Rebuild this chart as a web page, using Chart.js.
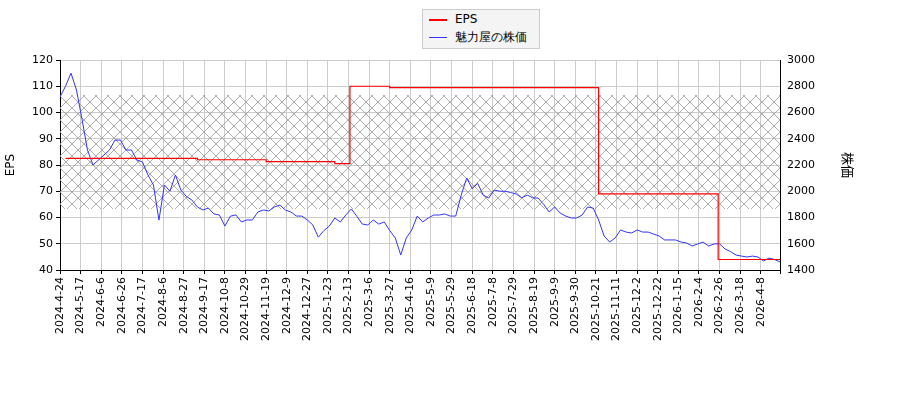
<!DOCTYPE html>
<html><head><meta charset="utf-8">
<script src="https://cdn.jsdelivr.net/npm/chart.js@4/dist/chart.umd.min.js"></script>
<style>
body{margin:0;background:#fff;font-family:"DejaVu Sans",sans-serif}
#wrap{position:relative;width:900px;height:400px}
#legend{position:absolute;left:422px;top:9px;width:116px;height:38px;border:1px solid #ccc;background:#f4f4f4;font-size:12px;color:#000}
#legend div{height:18px;line-height:18px;padding-left:6px;white-space:nowrap}
#legend span{display:inline-block;width:18px;height:0;border-top:2px solid;vertical-align:middle;margin-right:8px}
</style></head><body>
<div id="wrap"><canvas id="c" width="900" height="400"></canvas>
<div id="legend"><div><span style="border-color:#f00"></span>EPS</div><div><span style="border-color:#33f;border-top-width:1px"></span>魅力屋の株価</div></div></div>
<script>
const tickLabels = ['2024-4-24','2024-5-17','2024-6-6','2024-6-26','2024-7-17','2024-8-6','2024-8-27','2024-9-17','2024-10-8','2024-10-29','2024-11-19','2024-12-9','2024-12-27','2025-1-23','2025-2-13','2025-3-6','2025-3-27','2025-4-16','2025-5-9','2025-5-29','2025-6-18','2025-7-8','2025-7-29','2025-8-19','2025-9-9','2025-9-30','2025-10-21','2025-11-11','2025-12-2','2025-12-22','2026-1-15','2026-2-4','2026-2-26','2026-3-18','2026-4-8'];
// trading-day index / EPS value (step changes)
const epsDays = [4, 100, 150, 200, 211, 240, 391, 392, 478, 479, 524];
const epsValues = [82.5, 82, 81.3, 80.5, 110, 109.5, 109.5, 69, 69, 44, 44];
// share price sampled every 4 trading days
const priceStep = 4;
const prices = [2718,2800,2900,2771,2550,2314,2200,2238,2276,2314,2390,2390,2314,2314,2238,2223,2124,2048,1780,2048,
2000,2124,2009,1960,1933,1880,1857,1872,1827,1819,1735,1810,1820,1766,1781,1781,1842,1857,1850,1880,
1895,1857,1842,1811,1811,1781,1743,1650,1700,1735,1796,1766,1819,1865,1810,1750,1743,1781,1750,1766,
1700,1644,1514,1644,1705,1811,1766,1796,1819,1819,1827,1811,1811,1971,2101,2020,2060,1971,1948,2009,
2000,2000,1990,1979,1950,1971,1950,1948,1900,1842,1880,1834,1811,1796,1796,1819,1880,1872,1781,1659,
1613,1644,1705,1689,1682,1705,1689,1689,1674,1659,1629,1629,1629,1613,1606,1583,1598,1613,1583,1598,
1600,1560,1540,1514,1506,1499,1506,1499,1468,1491,1480,1461];
const bandRange = [1865, 2733]; // hatched band on price axis

const hatch = (() => {
    const p = document.createElement('canvas');
    p.width = 12; p.height = 12;
    const g = p.getContext('2d');
    g.strokeStyle = '#999'; g.lineWidth = 0.8;
    g.beginPath(); g.moveTo(0, 0); g.lineTo(12, 12); g.moveTo(12, 0); g.lineTo(0, 12); g.stroke();
    return g.createPattern(p, 'repeat');
})();

const bandPlugin = {
    id: 'band',
    beforeDatasetsDraw(chart) {
        const a = chart.chartArea, y = chart.scales.y2, ctx = chart.ctx;
        const top = y.getPixelForValue(bandRange[1]), bottom = y.getPixelForValue(bandRange[0]);
        ctx.save();
        ctx.fillStyle = hatch;
        ctx.fillRect(a.left, top, a.right - a.left, bottom - top);
        ctx.restore();
    },
};

const fix = (w) => (s) => { s.width = w; };
const font = { family: 'DejaVu Sans', size: 11 };

new Chart(document.getElementById('c'), {
    type: 'line',
    data: {
        datasets: [{
            data: epsDays.map((d, i) => ({ x: d, y: epsValues[i] })),
            borderColor: '#f00', borderWidth: 1.2, stepped: 'before', pointRadius: 0, yAxisID: 'y',
        }, {
            data: prices.map((v, i) => ({ x: i * priceStep, y: v })),
            borderColor: '#33f', borderWidth: 1, pointRadius: 0, tension: 0, yAxisID: 'y2',
        }],
    },
    plugins: [bandPlugin],
    options: {
        responsive: false, animation: false,
        layout: { padding: { top: 60, bottom: 0, right: 40 } },
        plugins: { legend: { display: false }, tooltip: { enabled: false } },
        scales: {
            x: {
                type: 'linear', min: 0, max: 524,
                ticks: { stepSize: 15, autoSkip: false, minRotation: 90, maxRotation: 90, color: '#000', font,
                    callback: (v) => tickLabels[v / 15] || '' },
                grid: { color: '#ccc', tickColor: '#000', tickLength: 4 },
                border: { color: '#000' },
                afterFit: (s) => { s.height = 130; },
            },
            y: {
                position: 'left', min: 40, max: 120,
                ticks: { stepSize: 10, color: '#000', font },
                grid: { color: '#ccc', tickColor: '#000', tickLength: 4 },
                border: { color: '#000' },
                title: { display: true, text: 'EPS', color: '#000', font: { family: 'DejaVu Sans', size: 12 } },
                afterFit: fix(60),
            },
            y2: {
                position: 'right', min: 1400, max: 3000,
                ticks: { stepSize: 200, color: '#000', font, callback: (v) => String(v) },
                grid: { display: false, tickColor: '#000', tickLength: 4 },
                border: { color: '#000' },
                title: { display: true, text: '株価', color: '#000', font: { family: 'Noto Sans CJK JP', size: 13 } },
                afterFit: fix(80),
            },
        },
    },
});
</script></body></html>
